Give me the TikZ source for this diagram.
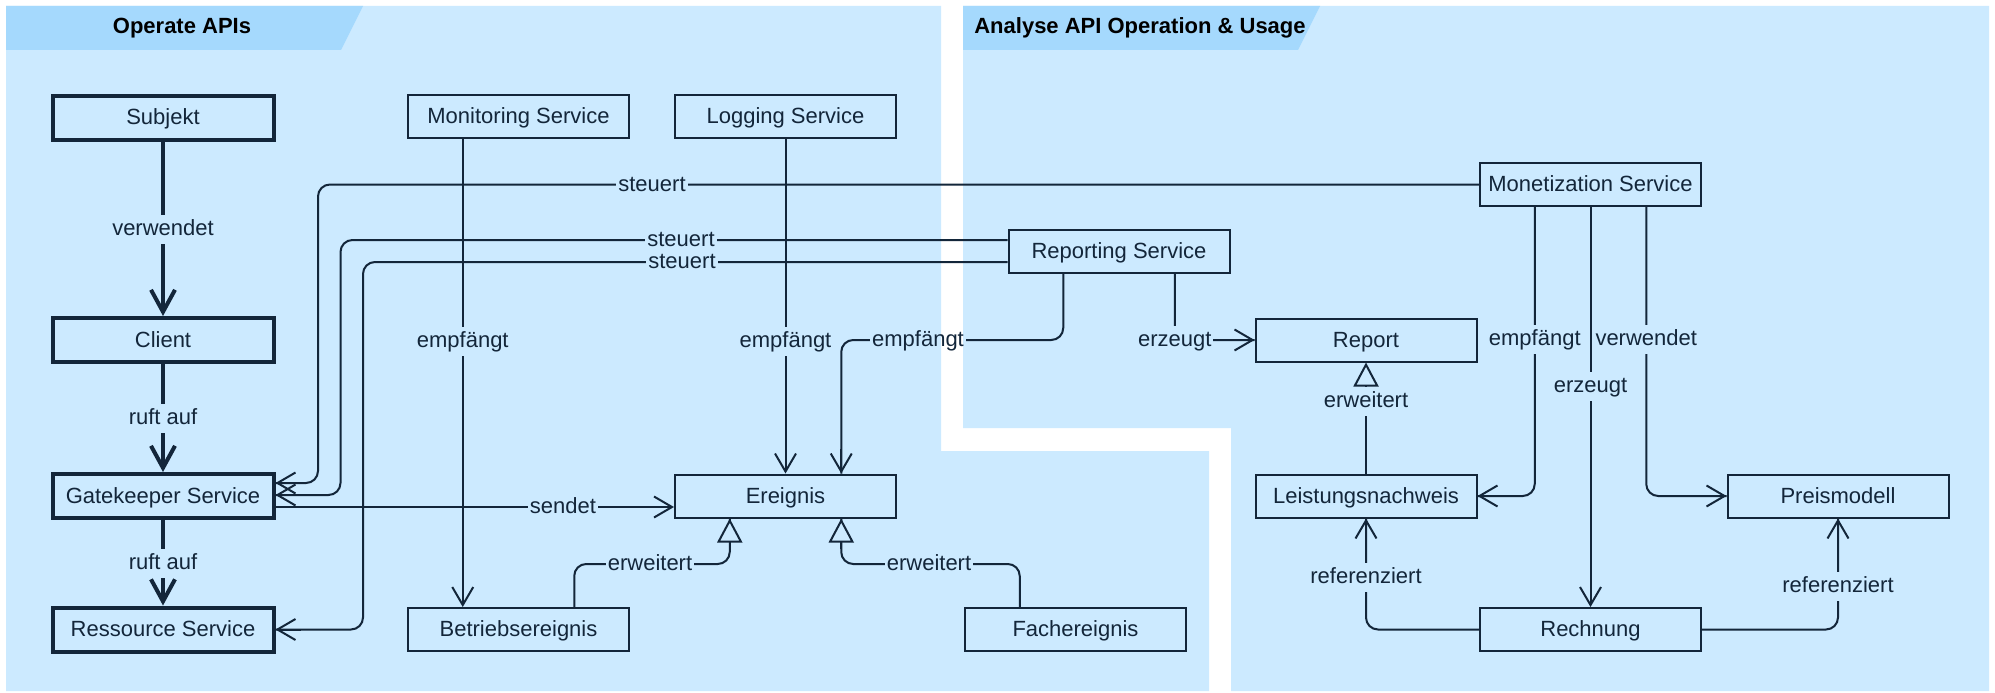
\documentclass[tikz,border=0pt]{standalone}
\usepackage{fontspec}
\setmainfont{Liberation Sans}
\usetikzlibrary{arrows.meta,calc}
\definecolor{panel}{HTML}{CCEAFF}
\definecolor{tabfill}{HTML}{A5D9FD}
\definecolor{ink}{HTML}{13263A}
\newcommand{\fs}{\fontsize{22pt}{26pt}\selectfont}
\begin{document}
\begin{tikzpicture}[x=1pt,y=-1pt,
  box/.style={draw=ink, line width=2pt, fill=panel, minimum width=221pt,
    minimum height=43pt, inner sep=0pt, text=ink, font=\fs,
    text height=17.5pt, text depth=3pt},
  thickbox/.style={box, line width=4pt, minimum height=44pt},
  % routed lines (rounded bends, no tip)
  conn/.style={draw=ink, line width=2pt, rounded corners=12pt},
  % straight lines and tip overlays (sharp corners keep the tips crisp)
  plain/.style={draw=ink, line width=2pt},
  arr/.style={plain, -{Straight Barb[length=18pt,width=21pt]}},
  ext/.style={plain, -{Triangle[open, fill=panel, length=24pt, width=25pt]}},
  thickarr/.style={draw=ink, line width=4pt, -{Straight Barb[length=22pt,width=24pt]}},
  lbl/.style={fill=panel, text=ink, font=\fs, inner xsep=2pt, inner ysep=4pt,
    text height=17pt, text depth=4pt},
  lblclear/.style={lbl, fill=none},
  title/.style={font=\fs\bfseries, text=black, inner sep=0pt}]
\useasboundingbox (0,0) rectangle (1995,693);
\fill[white] (0,0) rectangle (1995,693);

% swimlane panels
\fill[panel] (6,6) -- (941,6) -- (941,451) -- (1209,451) -- (1209,691) -- (6,691) -- cycle;
\fill[panel] (963,6) -- (1989,6) -- (1989,691) -- (1231,691) -- (1231,428) -- (963,428) -- cycle;
\fill[tabfill] (6,6) -- (363,6) -- (341,50) -- (6,50) -- cycle;
\fill[tabfill] (963,6) -- (1320,6) -- (1298,50) -- (963,50) -- cycle;
\node[title] (t1) at (182,28) {Operate APIs};
\node[title] (t2) at (1140,28) {Analyse API Operation \& Usage};

% classes
\node[thickbox] (subj) at (163,117.5) {Subjekt};
\node[thickbox] (client) at (163,340) {Client};
\node[thickbox] (gate) at (163,496) {Gatekeeper Service};
\node[thickbox] (res) at (163,629.5) {Ressource Service};
\node[box] (moni) at (518.5,116.5) {Monitoring Service};
\node[box] (logg) at (785.5,116.5) {Logging Service};
\node[box] (ereig) at (785.5,496) {Ereignis};
\node[box] (betr) at (518.5,629.5) {Betriebsereignis};
\node[box] (fach) at (1075.5,629.5) {Fachereignis};
\node[box] (repo) at (1119,251) {Reporting Service};
\node[box] (mone) at (1590.5,184.5) {Monetization Service};
\node[box] (report) at (1366,340) {Report};
\node[box] (leist) at (1366,496) {Leistungsnachweis};
\node[box] (preis) at (1838,496) {Preismodell};
\node[box] (rech) at (1590.5,629.5) {Rechnung};

% attachment points
\coordinate (g1) at ($(gate.east)+(0,-13)$);
\coordinate (g2) at ($(gate.east)+(0,-1)$);
\coordinate (g3) at ($(gate.east)+(0,11)$);
\coordinate (rw1) at ($(repo.west)+(0,-11)$);
\coordinate (rw2) at ($(repo.west)+(0,11)$);
\coordinate (m1) at ($(moni.south west)!0.25!(moni.south east)$);
\coordinate (r1) at ($(repo.south west)!0.25!(repo.south east)$);
\coordinate (r3) at ($(repo.south west)!0.75!(repo.south east)$);
\coordinate (e4) at ($(ereig.north west)!0.75!(ereig.north east)$);
\coordinate (e1) at ($(ereig.south west)!0.25!(ereig.south east)$);
\coordinate (e2) at ($(ereig.south west)!0.75!(ereig.south east)$);
\coordinate (b1) at ($(betr.north west)!0.75!(betr.north east)$);
\coordinate (f1) at ($(fach.north west)!0.25!(fach.north east)$);
\coordinate (mo1) at ($(mone.south west)!0.25!(mone.south east)$);
\coordinate (mo3) at ($(mone.south west)!0.75!(mone.south east)$);
\coordinate (h1) at (0,564);
\coordinate (k1) at (318,0);
\coordinate (k2) at (340.5,0);
\coordinate (k3) at (363,0);

% call chain
\draw[thickarr] (subj) -- (client);
\draw[thickarr] (client) -- (gate);
\draw[thickarr] (gate) -- (res);

% control lines
\draw[conn] (mone.west) -| (k1 |- g1) -- (g1);
\draw[arr] ($(g1)+(25,0)$) -- (g1);
\draw[conn] (rw1) -| (k2 |- g2) -- (g2);
\draw[arr] ($(g2)+(25,0)$) -- (g2);
\draw[conn] (rw2) -| (k3 |- res.east) -- (res.east);
\draw[arr] ($(res.east)+(25,0)$) -- (res.east);

% events
\draw[arr] (g3) -- (g3 -| ereig.west);
\draw[arr] (m1) -- (m1 |- betr.north);
\draw[arr] (logg) -- (ereig);
\node[lblclear] (lrep) at (918,340) {empfängt};
\draw[conn] (r1) |- (lrep.east);
\draw[conn] (lrep.west) -| (e4);
\draw[arr] ($(e4)+(0,-25)$) -- (e4);
\draw[conn] (b1) -- (b1 |- h1) -- (e1 |- h1) -- (e1);
\draw[ext] ($(e1)+(0,30)$) -- (e1);
\draw[conn] (f1) -- (f1 |- h1) -- (e2 |- h1) -- (e2);
\draw[ext] ($(e2)+(0,30)$) -- (e2);

% reporting and monetization
\draw[conn] (r3) |- (report.west);
\draw[arr] ($(report.west)+(-25,0)$) -- (report.west);
\draw[ext] (leist) -- (report);
\draw[conn] (mo1) |- (leist.east);
\draw[arr] ($(leist.east)+(25,0)$) -- (leist.east);
\draw[arr] (mone) -- (rech);
\draw[conn] (mo3) |- (preis.west);
\draw[arr] ($(preis.west)+(-25,0)$) -- (preis.west);
\draw[conn] (rech.west) -| (leist.south);
\draw[arr] ($(leist.south)+(0,25)$) -- (leist.south);
\draw[conn] (rech.east) -| (preis.south);
\draw[arr] ($(preis.south)+(0,25)$) -- (preis.south);

% connector labels
\node[lbl] (l1) at (163,229) {verwendet};
\node[lbl] (l2) at (163,418) {ruft auf};
\node[lbl] (l3) at (163,563) {ruft auf};
\node[lbl] (l4) at (652,184.5) {steuert};
\node[lbl] (l5) at (681,240) {steuert};
\node[lbl] (l6) at (682,262) {steuert};
\node[lbl] (l7) at (563,507) {sendet};
\node[lbl] (l8) at (462.75,341) {empfängt};
\node[lbl] (l9) at (785.5,341) {empfängt};
\node[lbl] (l10) at (1174.75,340) {erzeugt};
\node[lbl] (l11) at (650,564) {erweitert};
\node[lbl] (l12) at (929,564) {erweitert};
\node[lbl] (l13) at (1366,401) {erweitert};
\node[lbl] (l14) at (1534.75,339) {empfängt};
\node[lbl] (l15) at (1646.25,339) {verwendet};
\node[lbl] (l16) at (1590.5,386) {erzeugt};
\node[lbl] (l17) at (1366,577) {referenziert};
\node[lbl] (l18) at (1838,586) {referenziert};
\end{tikzpicture}
\end{document}
